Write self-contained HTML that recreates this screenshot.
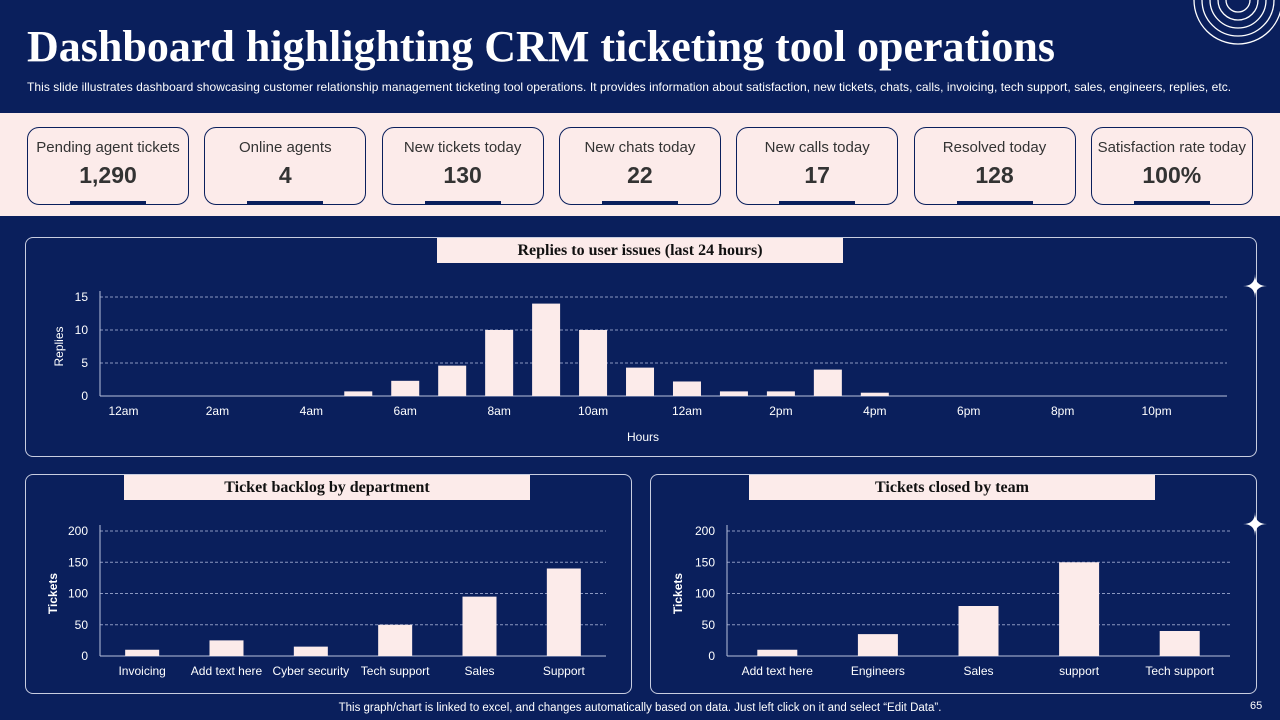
<!DOCTYPE html>
<html><head><meta charset="utf-8"><style>
body{margin:0;width:1280px;height:720px;background:#0a1f5c;font-family:"Liberation Sans",sans-serif;overflow:hidden;position:relative;color:#fff}
.t{position:absolute;left:27px;top:21px;font-family:"Liberation Serif",serif;font-size:44px;font-weight:bold;color:#fff;white-space:nowrap}
.sub{position:absolute;left:27px;top:80px;font-size:12px;color:#fff;white-space:nowrap;letter-spacing:0.05px}
.band{position:absolute;left:0;top:113px;width:1280px;height:103px;background:#fcebea}
.card{position:absolute;top:127px;width:160px;height:76px;border:1px solid #0a1f5c;border-radius:12px;background:#fcebea;text-align:center;color:#333}
.card .l{font-size:15px;margin-top:11px}
.card .v{font-size:23px;font-weight:bold;margin-top:6px}
.card .u{position:absolute;left:42px;bottom:-1px;width:76px;height:4px;background:#0a1f5c}
.panel{position:absolute;border:1px solid #c8cde0;border-radius:8px}
.ttl{position:absolute;background:#fcebea;color:#111;font-family:"Liberation Serif",serif;font-weight:bold;font-size:16px;text-align:center;line-height:25px;height:25px}
.foot{position:absolute;top:702px;left:0;width:1280px;text-align:center;font-size:11.5px}
</style></head><body>
<div class="t">Dashboard highlighting CRM ticketing tool operations</div>
<div class="sub">This slide illustrates dashboard showcasing customer relationship management ticketing tool operations. It provides information about satisfaction, new tickets, chats, calls, invoicing, tech support, sales, engineers, replies, etc.</div>
<svg style="position:absolute;left:1190px;top:0" width="90" height="50">
<g fill="none" stroke="#fff" stroke-width="1.3"><circle cx="48" cy="0" r="12"/><circle cx="48" cy="0" r="20"/><circle cx="48" cy="0" r="28"/><circle cx="48" cy="0" r="36"/><circle cx="48" cy="0" r="44"/></g></svg>
<div class="band"></div>
<div id="cards"></div>
<div class="panel" style="left:25px;top:237px;width:1230px;height:218px"></div>
<div class="ttl" style="left:437px;top:238px;width:406px">Replies to user issues (last 24 hours)</div>
<div class="panel" style="left:25px;top:474px;width:605px;height:218px"></div>
<div class="ttl" style="left:124px;top:475px;width:406px">Ticket backlog by department</div>
<div class="panel" style="left:650px;top:474px;width:605px;height:218px"></div>
<div class="ttl" style="left:749px;top:475px;width:406px">Tickets closed by team</div>
<svg id="ch" style="position:absolute;left:0;top:0" width="1280" height="720"></svg>
<div class="foot">This graph/chart is linked to excel, and changes automatically based on data. Just left click on it and select “Edit Data”.</div>
<div style="position:absolute;left:1250px;top:700px;font-size:11px">65</div>
<script>
const kpiLabels=["Pending agent tickets","Online agents","New tickets today","New chats today","New calls today","Resolved today","Satisfaction rate today"];
const kpiValues=["1,290","4","130","22","17","128","100%"];
const hourLabels=["12am","2am","4am","6am","8am","10am","12am","2pm","4pm","6pm","8pm","10pm"];
const replies=[0,0,0,0,0,0.7,2.3,4.6,10,14,10,4.3,2.2,0.7,0.7,4,0.5,0,0,0,0,0,0,0];
const replyTicks=[0,5,10,15];
const deptCats=["Invoicing","Add text here","Cyber security","Tech support","Sales","Support"];
const deptVals=[10,25,15,50,95,140];
const teamCats=["Add text here","Engineers","Sales","support","Tech support"];
const teamVals=[10,35,80,150,40];
const ticks200=[0,50,100,150,200];

const cw=document.getElementById('cards');
kpiLabels.forEach((l,i)=>{const d=document.createElement('div');d.className='card';d.style.left=(27+i*177.3)+'px';


d.innerHTML='<div class="l">'+l+'</div><div class="v">'+kpiValues[i]+'</div><div class="u"></div>';cw.appendChild(d);});

const svg=document.getElementById('ch');const NS='http://www.w3.org/2000/svg';
function el(t,a,txt){const e=document.createElementNS(NS,t);for(const k in a)e.setAttribute(k,a[k]);if(txt!==undefined)e.textContent=txt;svg.appendChild(e);return e;}
function chart(o){
 const y=v=>o.y0-(v/o.max)*(o.y0-o.yTop);
 o.ticks.forEach(t=>{if(t>0){const g=el('line',{x1:o.x0,x2:o.x1,y1:y(t),y2:y(t),stroke:'#8a97c0','stroke-dasharray':'3,2','stroke-width':1});}
  const tl=el('text',{x:o.x0-12,y:y(t)+4,'text-anchor':'end','font-size':12,fill:'#fff'},t);});
 const ax=el('line',{x1:o.x0,x2:o.x1,y1:o.y0,y2:o.y0,stroke:'#b8c0dd'});
 const ya=el('line',{x1:o.x0,x2:o.x0,y1:o.yTop-6,y2:o.y0,stroke:'#b8c0dd'});
 const sw=(o.x1-o.x0)/o.vals.length;
 o.vals.forEach((v,i)=>{if(v<=0)return;const b=el('rect',{x:o.x0+i*sw+(sw-o.bw)/2,y:y(v),width:o.bw,height:o.y0-y(v),fill:'#fcebea'});
  });
 o.labels.forEach((l,i)=>{const idx=i*o.lstep;const t=el('text',{x:o.x0+(idx+0.5)*sw,y:o.y0+19,'text-anchor':'middle','font-size':12,fill:'#fff'},l);
  });
 const yt=el('text',{x:0,y:0,transform:`translate(${o.ytx},${(o.y0+o.yTop)/2}) rotate(-90)`,'text-anchor':'middle','font-size':12,'font-weight':o.bold?'bold':'normal',fill:'#fff'},o.ytitle);
 
}
chart({x0:100,x1:1227,y0:396,yTop:297,max:15,ticks:replyTicks,vals:replies,labels:hourLabels,lstep:2,bw:28,ytitle:'Replies',ytx:63});
const ht=el('text',{x:643,y:441,'text-anchor':'middle','font-size':12,fill:'#fff'},'Hours');
chart({x0:100,x1:606,y0:656,yTop:531,max:200,ticks:ticks200,vals:deptVals,labels:deptCats,lstep:1,bw:34,ytitle:'Tickets',ytx:57,bold:true});
chart({x0:727,x1:1230,y0:656,yTop:531,max:200,ticks:ticks200,vals:teamVals,labels:teamCats,lstep:1,bw:40,ytitle:'Tickets',ytx:682,bold:true});
[[1255,286],[1255,524]].forEach(p=>{const s=el('path',{d:`M${p[0]} ${p[1]-12}Q${p[0]} ${p[1]} ${p[0]+12} ${p[1]}Q${p[0]} ${p[1]} ${p[0]} ${p[1]+12}Q${p[0]} ${p[1]} ${p[0]-12} ${p[1]}Q${p[0]} ${p[1]} ${p[0]} ${p[1]-12}Z`,fill:'#fff'});
 });
</script>
</body></html>
